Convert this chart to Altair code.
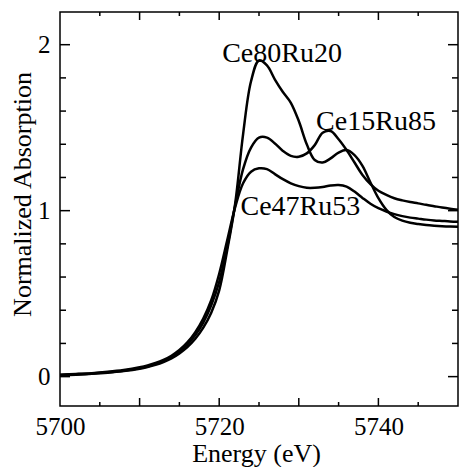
import altair as alt
import pandas as pd

energy = [5700, 5702, 5704, 5706, 5708, 5710, 5711, 5712, 5713, 5714, 5715,
          5716, 5717, 5718, 5719, 5720, 5721, 5722, 5723, 5724, 5725, 5726,
          5727, 5728, 5729, 5730, 5731, 5732, 5733, 5734, 5735, 5736, 5737,
          5738, 5739, 5740, 5741, 5742, 5743, 5744, 5745, 5746, 5747, 5748,
          5749, 5750]

ce80ru20 = [0.008, 0.012, 0.017, 0.024, 0.034, 0.048, 0.058, 0.071, 0.088, 0.110, 0.140,
            0.178, 0.228, 0.295, 0.385, 0.52, 0.76, 1.04, 1.46, 1.78, 1.905, 1.875,
            1.79, 1.715, 1.65, 1.54, 1.40, 1.305, 1.29, 1.315, 1.35, 1.365, 1.335,
            1.27, 1.17, 1.075, 1.005, 0.962, 0.940, 0.927, 0.919, 0.913, 0.909, 0.906,
            0.904, 0.903]

ce15ru85 = [0.010, 0.014, 0.019, 0.026, 0.036, 0.051, 0.061, 0.075, 0.093, 0.117, 0.150,
            0.193, 0.250, 0.325, 0.43, 0.57, 0.78, 1.03, 1.25, 1.38, 1.44, 1.44,
            1.405, 1.36, 1.33, 1.325, 1.345, 1.395, 1.47, 1.48, 1.43, 1.365, 1.29,
            1.215, 1.16, 1.12, 1.095, 1.075, 1.062, 1.052, 1.044, 1.035, 1.027, 1.019,
            1.012, 1.006]

ce47ru53 = [0.012, 0.016, 0.021, 0.029, 0.040, 0.056, 0.067, 0.082, 0.101, 0.126, 0.160,
            0.206, 0.268, 0.35, 0.46, 0.62, 0.82, 1.02, 1.165, 1.235, 1.255, 1.25,
            1.22, 1.19, 1.165, 1.148, 1.138, 1.138, 1.143, 1.152, 1.155, 1.145, 1.115,
            1.077, 1.042, 1.015, 0.995, 0.979, 0.967, 0.958, 0.952, 0.946, 0.941, 0.938,
            0.935, 0.933]

series_names = ["Ce80Ru20", "Ce15Ru85", "Ce47Ru53"]
label_x = [5727.9, 5739.7, 5730.2]
label_y = [1.898, 1.486, 0.974]

x_label_values = [5700, 5720, 5740]
y_label_values = [0, 1, 2]
x_major_ticks = [5710, 5720, 5730, 5740]
x_minor_ticks = [5705, 5715, 5725, 5735, 5745]
y_major_ticks = [0, 1, 2]
y_minor_ticks = [0.2, 0.4, 0.6, 0.8, 1.2, 1.4, 1.6, 1.8]

W, H = 398, 394

rows = []
for name, vals in zip(series_names, [ce80ru20, ce15ru85, ce47ru53]):
    for e, v in zip(energy, vals):
        rows.append({"series": name, "energy": e, "absorption": v})
df = pd.DataFrame(rows)
labels_df = pd.DataFrame({"text": series_names, "x": label_x, "y": label_y})

FONT = "Liberation Serif"
xscale = alt.Scale(domain=[5700, 5750], nice=False, zero=False)
yscale = alt.Scale(domain=[-0.177, 2.197], nice=False, zero=False)

x_axis = alt.Axis(
    values=x_label_values, format="d", ticks=False, domain=False, grid=False,
    labelPadding=8, labelFontSize=25, labelFont=FONT, labelColor="black",
    labelFlush=False, labelOverlap=False, labelAlign="center",
    title="Energy (eV)", titleFont=FONT, titleFontSize=26, titleFontWeight="normal",
    titleColor="black", titleX=196, titleY=55, titleBaseline="alphabetic",
    titleAlign="center")

y_axis = alt.Axis(
    values=y_label_values, format="d", ticks=False, domain=False, grid=False,
    labelPadding=10, labelFontSize=25, labelFont=FONT, labelColor="black",
    labelFlush=False, labelOverlap=False,
    title="Normalized Absorption", titleFont=FONT, titleFontSize=26,
    titleFontWeight="normal", titleColor="black", titleX=-30, titleY=182,
    titleAngle=-90, titleBaseline="alphabetic", titleAlign="center")

lines = alt.Chart(df).mark_line(color="black", strokeWidth=2.5,
                                interpolate="catmull-rom", strokeJoin="round").encode(
    x=alt.X("energy:Q", scale=xscale, axis=x_axis),
    y=alt.Y("absorption:Q", scale=yscale, axis=y_axis),
    detail="series:N",
)

texts = alt.Chart(labels_df).mark_text(font=FONT, fontSize=28, color="black",
                                       align="center", baseline="alphabetic").encode(
    x=alt.X("x:Q", scale=xscale),
    y=alt.Y("y:Q", scale=yscale),
    text="text:N",
)


def xticks(values, length):
    d = pd.DataFrame({"v": values})
    base = alt.Chart(d).mark_rule(color="black", strokeWidth=1.5)
    bottom = base.encode(x=alt.X("v:Q", scale=xscale), y=alt.value(H), y2=alt.value(H - length))
    top = base.encode(x=alt.X("v:Q", scale=xscale), y=alt.value(0), y2=alt.value(length))
    return [bottom, top]


def yticks(values, length):
    d = pd.DataFrame({"v": values})
    base = alt.Chart(d).mark_rule(color="black", strokeWidth=1.5)
    left = base.encode(y=alt.Y("v:Q", scale=yscale), x=alt.value(0), x2=alt.value(length))
    right = base.encode(y=alt.Y("v:Q", scale=yscale), x=alt.value(W), x2=alt.value(W - length))
    return [left, right]


tick_layers = (xticks(x_major_ticks, 8) + xticks(x_minor_ticks, 4)
               + yticks(y_major_ticks, 10) + yticks(y_minor_ticks, 6))

chart = alt.layer(lines, texts, *tick_layers).properties(
    width=W, height=H,
    padding={"left": 52, "top": 4, "right": 1, "bottom": 61},
    autosize=alt.AutoSizeParams(type="none"),
).configure_view(stroke="black", strokeWidth=1.5)

chart.save("out.html", embed_options={"renderer": "svg", "actions": False})
